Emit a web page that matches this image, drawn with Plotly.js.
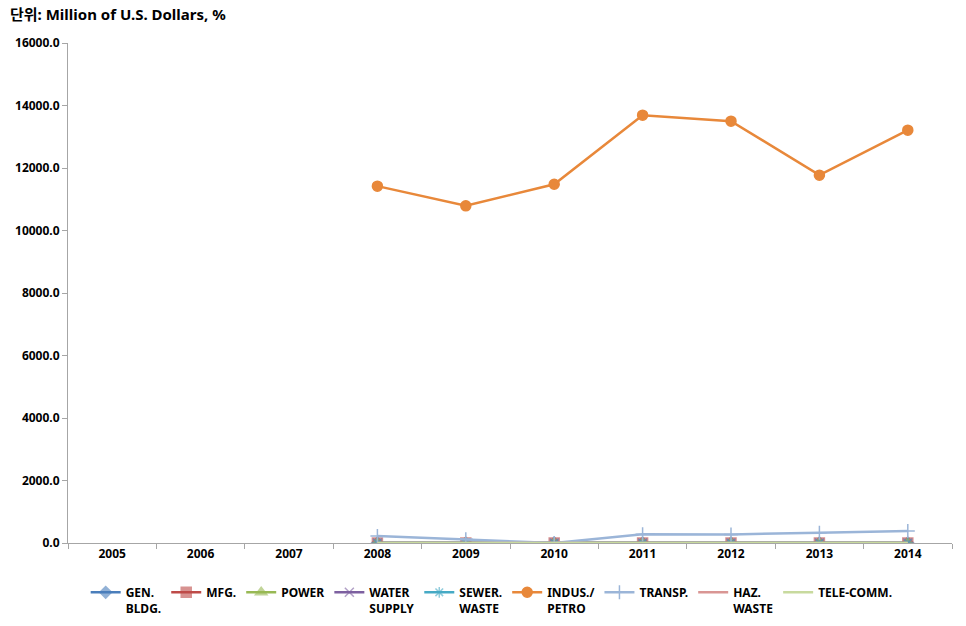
<!DOCTYPE html>
<html><head><meta charset="utf-8">
<script src="https://cdn.plot.ly/plotly-3.0.1.min.js"></script>
<style>html,body{margin:0;padding:0;background:#fff}#c{width:966px;height:626px}</style>
</head><body><div id="c"></div>
<script>
const years = ['2005','2006','2007','2008','2009','2010','2011','2012','2013','2014'];
const genBldg = [null,null,null,0,0,0,0,0,0,0];
const mfg = [null,null,null,0,0,0,0,0,0,0];
const power = [null,null,null,0,0,0,0,0,0,0];
const waterSupply = [null,null,null,0,0,0,0,0,0,0];
const sewerWaste = [null,null,null,0,0,0,0,0,0,0];
const indusPetro = [null,null,null,11420,10790,11480,13690,13500,11770,13210];
const transp = [null,null,null,225,118,0,278,272,330,384];
const hazWaste = [null,null,null,0,0,0,0,0,0,0];
const teleComm = [null,null,null,0,0,0,0,0,0,0];
const names = ['GEN.<br>BLDG.','MFG.','POWER','WATER<br>SUPPLY','SEWER.<br>WASTE','INDUS./<br>PETRO','TRANSP.','HAZ.<br>WASTE','TELE-COMM.'];

const series = [genBldg,mfg,power,waterSupply,sewerWaste,indusPetro,transp,hazWaste,teleComm];
const colors = ['#4a7ebb','#be4b48','#98b954','#7d60a0','#46aac5','#e8883a','#9bb5d8','#d99694','#c8da9e'];
const symbols = ['diamond','square','triangle-up','x-thin-open','asterisk-open','circle','cross-thin-open',null,null];
const sizes = [9,10,10,9,9,10,10,0,0];

const traces = series.map((s,i)=>{
  const t = {x:years, y:s, name:names[i], type:'scatter',
    line:{color:colors[i], width:2.5}, connectgaps:false};
  if (symbols[i]) {
    t.mode='lines+markers';
    t.marker={symbol:symbols[i], size:sizes[i], color:colors[i], line:{color:colors[i], width:1.5}};
    if (i<5) t.marker.opacity = 0.6;
  } else t.mode='lines';
  return t;
});

const F = '"Noto Sans", "Noto Sans CJK KR", sans-serif';
const layout = {
  width:966, height:626,
  margin:{l:68, r:14, t:43, b:83, autoexpand:false},
  paper_bgcolor:'#fff', plot_bgcolor:'#fff',
  font:{family:F, color:'#000', size:12},
  showlegend:true,
  xaxis:{type:'category', range:[-0.5,9.5], showgrid:false, zeroline:false, showline:true, linecolor:'#a6a6a6', linewidth:1,
    ticks:'outside', tickson:'boundaries', ticklen:5, tickcolor:'#a6a6a6',
    tickfont:{size:12, family:F, weight:'bold'}},
  yaxis:{range:[0,16000], dtick:2000, tickformat:'.1f', showgrid:false, zeroline:false,
    showline:true, linecolor:'#a6a6a6', linewidth:1, ticks:'outside', ticklen:5, tickcolor:'#a6a6a6',
    tickfont:{size:12, family:F, weight:'bold'}},
  legend:{orientation:'h', x:0.02, xanchor:'left', y:-0.07, yanchor:'top', valign:'top',
    itemwidth:30, tracegroupgap:0,
    font:{size:12, family:F, weight:'bold'}},
  annotations:[{xref:'paper', yref:'paper', x:-0.068, y:1.058, xanchor:'left', yanchor:'middle',
    text:'단위: Million of U.S. Dollars, %', showarrow:false,
    font:{size:15, family:F, weight:'bold', color:'#000'}}]
};
Plotly.newPlot('c', traces, layout, {displayModeBar:false, staticPlot:true});
</script></body></html>
